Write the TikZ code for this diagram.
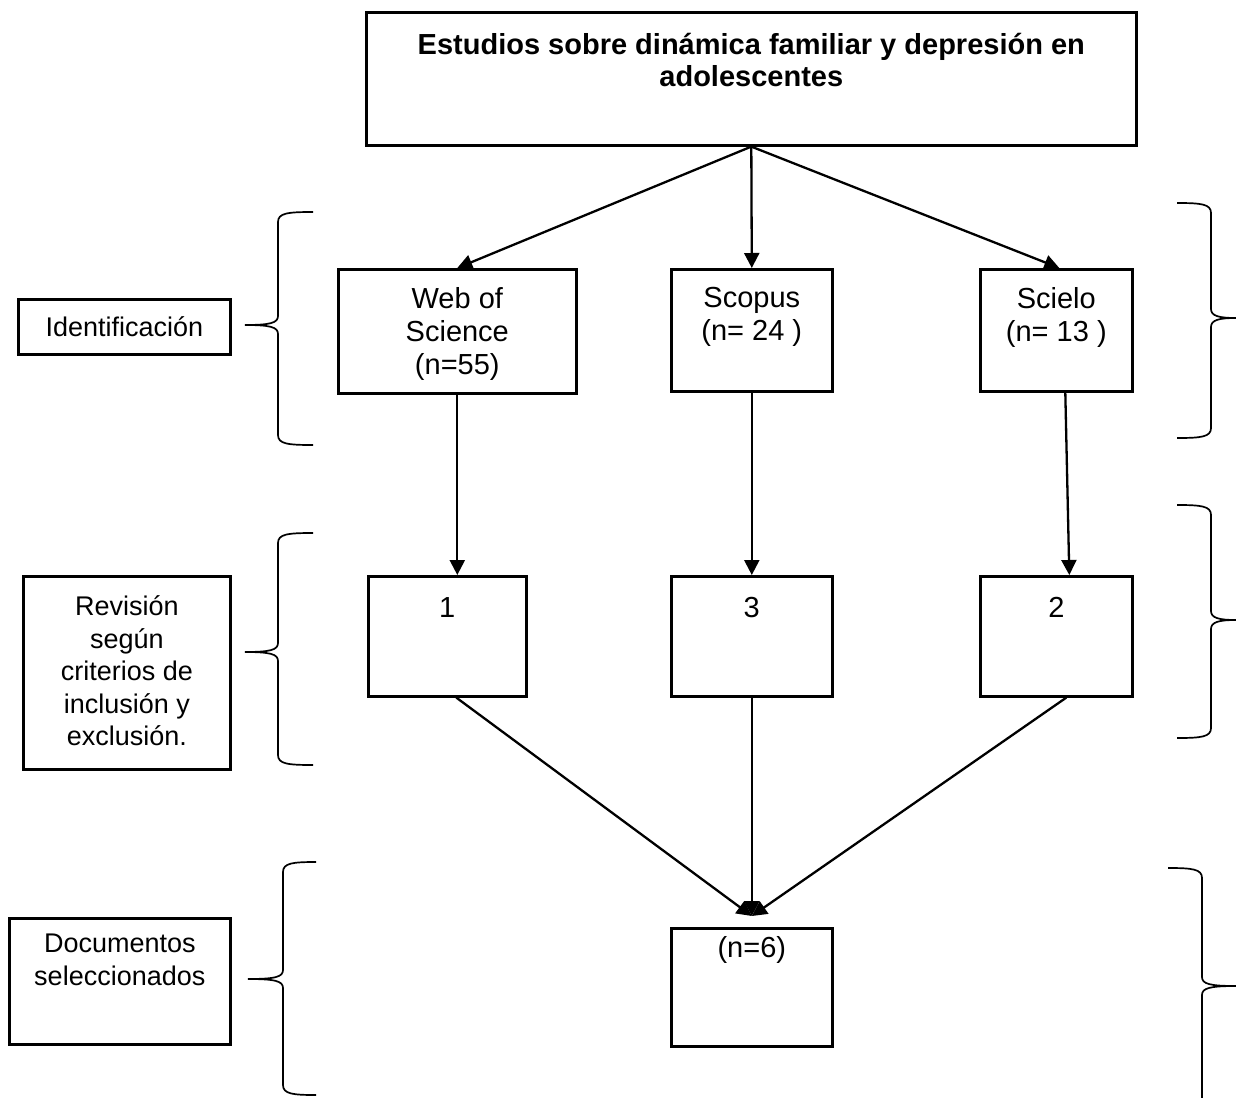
\documentclass[tikz,border=0pt]{standalone}
\usepackage{fontspec}
\setmainfont{Liberation Sans}
\usetikzlibrary{arrows.meta,calc}
\newcommand\mybrace[7]{% #1 x vertical, #2 end x, #3 tip x, #4 top, #5 tip y, #6 bottom, #7 direction
  \draw[brc] (#2,#4) .. controls (#1+10*#7,#4) and (#1,#4+1) .. (#1,#4+10)
    -- (#1,#5-9) .. controls (#1,#5-2) and (#1-8*#7,#5) .. (#3,#5)
    .. controls (#1-8*#7,#5) and (#1,#5+2) .. (#1,#5+9)
    -- (#1,#6-10) .. controls (#1,#6-1) and (#1+10*#7,#6) .. (#2,#6);}
\begin{document}
\begin{tikzpicture}[x=1pt,y=-1pt,
  box/.style={draw,line width=2.6pt,inner sep=0pt,anchor=north west},
  lbl/.style={anchor=north,align=center,font=\fontsize{29}{33}\selectfont,inner sep=0pt},
  side/.style={align=center,font=\fontsize{27}{32.5}\selectfont,inner sep=0pt},
  arr/.style={line width=2.3pt,-{Triangle[length=15pt,width=15pt]}},
  brc/.style={line width=1.7pt}]
\useasboundingbox (0,0) rectangle (1236,1097);

% main boxes
\node[box,minimum width=770,minimum height=133] (top) at (365,11) {};
\node[box,minimum width=238,minimum height=124] (wos) at (337,268) {};
\node[box,minimum width=161,minimum height=122] (scopus) at (670,268) {};
\node[box,minimum width=152,minimum height=122] (scielo) at (979,268) {};
\node[box,minimum width=158,minimum height=120] (one) at (367,575) {};
\node[box,minimum width=161,minimum height=120] (three) at (670,575) {};
\node[box,minimum width=152,minimum height=120] (two) at (979,575) {};
\node[box,minimum width=161,minimum height=118] (six) at (670,927) {};

% side boxes
\node[box,minimum width=212,minimum height=55] (idn) at (17,298) {};
\node[box,minimum width=207,minimum height=193] (rev) at (22,575) {};
\node[box,minimum width=221,minimum height=126] (doc) at (8,917) {};

% texts
\node[lbl,font=\fontsize{29}{32}\selectfont\bfseries] (topt) at ($(top.north)+(0,22)$) {Estudios sobre dinámica familiar y depresión en\\adolescentes};
\node[lbl] (wost) at ($(wos.north)+(0,19)$) {Web of\\Science\\(n=55)};
\node[lbl] (scopust) at ($(scopus.north)+(0,19)$) {Scopus\\(n= 24 )};
\node[lbl] (scielot) at ($(scielo.north)+(0,19)$) {Scielo\\(n= 13 )};
\node[lbl] (onet) at ($(one.north)+(0,22)$) {1};
\node[lbl] (threet) at ($(three.north)+(0,22)$) {3};
\node[lbl] (twot) at ($(two.north)+(0,22)$) {2};
\node[lbl] (sixt) at ($(six.north)+(0,9)$) {(n=6)};

\node[side] (idnt) at (idn.center) {Identificación};
\node[side] (revt) at ($(rev.center)+(0,-2)$) {Revisión\\según\\criterios de\\inclusión y\\exclusión.};
\node[side,anchor=north] (doct) at ($(doc.north)+(0,17)$) {Documentos\\seleccionados};

% arrows from top
\draw[arr] (top.south) -- (wos.north);
\draw[arr] (top.south) -- (scopus.north);
\draw[arr] (top.south) -- ($(scielo.north)+(3,0)$);

% vertical arrows
\draw[arr] (wos.south) -- (wos.south |- one.north);
\draw[arr] (scopus.south) -- (three.north);
\draw[arr] ($(scielo.south)+(9,0)$) -- ($(two.north)+(13,0)$);

% converging arrows
\coordinate (conv) at ($(six.north)+(0,-11)$);
\draw[arr] ($(one.south)+(9,0)$) -- (conv);
\draw[arr] (three.south) -- (conv);
\draw[arr] ($(two.south)+(10,0)$) -- (conv);

% braces
\mybrace{278}{313}{245}{212}{325}{445}{1}
\mybrace{278}{313}{245}{533}{652}{765}{1}
\mybrace{283}{316}{248}{862}{979}{1095}{1}
\mybrace{1211}{1177}{1236}{203}{318}{438}{-1}
\mybrace{1211}{1177}{1236}{505}{620}{738}{-1}
\mybrace{1202}{1168}{1236}{868}{986}{1120}{-1}
\end{tikzpicture}
\end{document}
